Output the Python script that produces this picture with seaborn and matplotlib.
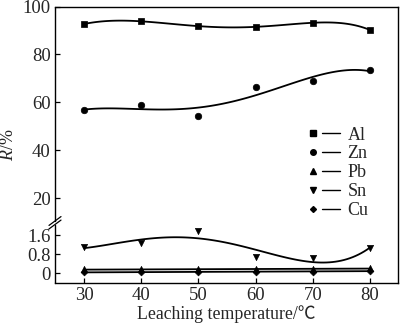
import numpy as np
import pandas as pd
import matplotlib
matplotlib.use("Agg")
import matplotlib.pyplot as plt
import seaborn as sns
from matplotlib.lines import Line2D
from matplotlib.legend_handler import HandlerTuple

# ---- data ----
temperature = [30, 40, 50, 60, 70, 80]
al = [92.7, 93.8, 91.8, 91.5, 93.2, 90.2]
zn = [56.6, 58.8, 54.4, 66.3, 68.9, 73.3]
pb = [0.15, 0.15, 0.16, 0.16, 0.17, 0.20]
sn = [1.08, 1.25, 1.78, 0.66, 0.62, 1.04]
cu = [0.03, 0.04, 0.05, 0.05, 0.06, 0.09]
metals = ["Al", "Zn", "Pb", "Sn", "Cu"]
y_ticks = [0, 0.8, 1.6, 20, 40, 60, 80, 100]
y_tick_labels = ["0", "0.8", "1.6", "20", "40", "60", "80", "100"]
x_ticks = [30, 40, 50, 60, 70, 80]

series = {"Al": al, "Zn": zn, "Pb": pb, "Sn": sn, "Cu": cu}
df = pd.DataFrame([(m, t, v) for m in metals for t, v in zip(temperature, series[m])],
                  columns=["metal", "T", "R"])

sns.set_style("ticks")
plt.rcParams["font.family"] = ["Liberation Serif", "Noto Sans CJK SC", "DejaVu Sans"]
plt.rcParams["mathtext.fontset"] = "custom"
plt.rcParams["mathtext.it"] = "Liberation Serif:italic"
plt.rcParams["mathtext.rm"] = "Liberation Serif"
plt.rcParams["xtick.direction"] = "in"
plt.rcParams["ytick.direction"] = "in"

fig = plt.figure(figsize=(4.0, 3.27), dpi=100)
top_px, bot_px = 6.5, 283.0
ax_h = bot_px - top_px
ax = fig.add_axes([55 / 400, (327 - bot_px) / 327, 343 / 400, ax_h / 327])

# broken (piecewise-linear) y scale (pixel heights above value 0)
up = (198 - top_px) / 80.0          # px per unit, upper part
lo = 23.75                           # px per unit, lower part
vs = np.array([-50.0, 2.0, 8.6, 300.0])
ys = np.array([-50 * lo, 2 * lo, 75.0 - 11.4 * up, 75.0 + 280 * up])
fwd = lambda v: np.interp(v, vs, ys)
inv = lambda p: np.interp(p, ys, vs)
ax.set_yscale("function", functions=(fwd, inv))

markers = {"Al": "s", "Zn": "o", "Pb": "^", "Sn": "v", "Cu": "D"}
sizes = {"Al": 20, "Zn": 22, "Pb": 20, "Sn": 20, "Cu": 12}
orders = {"Al": 5, "Zn": 4, "Pb": 1, "Sn": 4, "Cu": 1}
lw = 1.3

for m in metals:
    d = df[df.metal == m]
    sns.regplot(data=d, x="T", y="R", order=orders[m], ci=None, scatter=False,
                truncate=True, ax=ax, line_kws=dict(color="black", lw=lw))
    sns.scatterplot(data=d, x="T", y="R", marker=markers[m], s=sizes[m],
                    color="black", edgecolor="black", linewidth=0.5, ax=ax,
                    zorder=5, legend=False)

ax.set_xlim(24.9, 84.9)
ax.set_ylim(-0.42, 100)
ax.set_xticks(x_ticks)
ax.set_yticks(y_ticks)
ax.set_yticklabels(y_tick_labels)
ax.yaxis.set_minor_locator(matplotlib.ticker.NullLocator())
ax.tick_params(labelsize=13.5, length=3.5, width=0.9, color="black", pad=3)
ax.set_xlabel("Leaching temperature/℃", fontsize=12.8, labelpad=1)
ax.set_ylabel(r"$\mathit{R}$/%", fontsize=13, labelpad=4)

for s in ax.spines.values():
    s.set_linewidth(1.0)
    s.set_color("black")

# axis break on left spine
ax.spines["left"].set_visible(False)
y_lo = (bot_px - 224.5) / ax_h
y_hi = (bot_px - 221.0) / ax_h
ax.plot([0, 0], [0, y_lo], transform=ax.transAxes, color="black", lw=1.0, clip_on=False)
ax.plot([0, 0], [y_hi, 1], transform=ax.transAxes, color="black", lw=1.0, clip_on=False)
dx, dy = 0.0175, 0.016
for yc in (y_lo, y_hi):
    ax.plot([-dx, dx], [yc - dy, yc + dy], transform=ax.transAxes, color="black",
            lw=0.9, clip_on=False)

# legend: marker, then a short line, then label
handles = []
for m in metals:
    mk = Line2D([], [], marker=markers[m], color="black", linestyle="none",
                markersize=4.0 if m != "Cu" else 3.0)
    ln = Line2D([], [], color="black", lw=1.0)
    handles.append((mk, ln))
fig.legend(handles, metals, handler_map={tuple: HandlerTuple(ndivide=2, pad=0)},
           loc="upper left", bbox_to_anchor=(304 / 400, (327 - 126.5) / 327),
           frameon=False, fontsize=13, handlelength=2.0, handletextpad=0.4,
           labelspacing=0.11, borderpad=0, borderaxespad=0)

fig.savefig("out.png", dpi=100)
